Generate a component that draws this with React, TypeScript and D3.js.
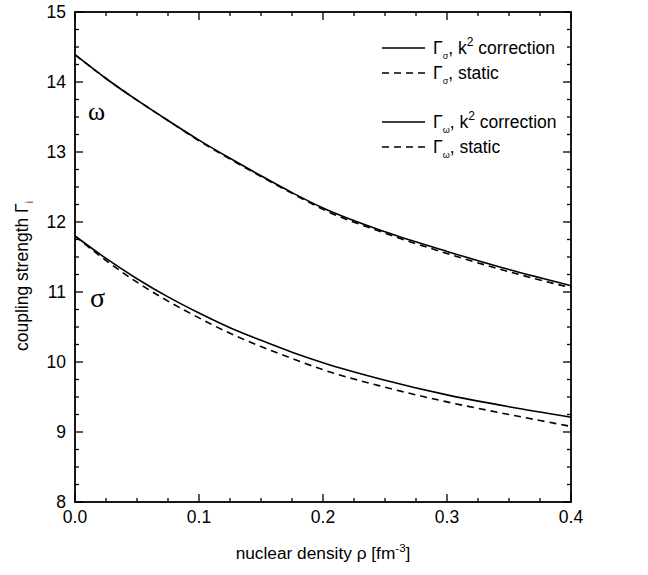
import React from "react";
import * as d3 from "d3";

const density = [0, 0.025, 0.05, 0.075, 0.1, 0.125, 0.15, 0.175, 0.2, 0.25, 0.3, 0.35, 0.4];
const omegaK2 = [14.39, 14.05, 13.74, 13.45, 13.17, 12.91, 12.66, 12.42, 12.2, 11.86, 11.58, 11.32, 11.09];
const omegaStatic = [14.39, 14.05, 13.74, 13.45, 13.16, 12.9, 12.65, 12.41, 12.18, 11.84, 11.55, 11.29, 11.06];
const sigmaK2 = [11.8, 11.48, 11.19, 10.93, 10.7, 10.49, 10.31, 10.14, 9.99, 9.74, 9.53, 9.36, 9.21];
const sigmaStatic = [11.8, 11.45, 11.14, 10.87, 10.63, 10.41, 10.22, 10.05, 9.89, 9.64, 9.43, 9.25, 9.08];

const xTicks = [0, 0.1, 0.2, 0.3, 0.4];
const yTicks = [8, 9, 10, 11, 12, 13, 14, 15];

const W = 648, H = 575;
const L = 75, R = 571, T = 12, B = 502;

export default function App() {
  const x = d3.scaleLinear().domain([0, 0.4]).range([L, R]);
  const y = d3.scaleLinear().domain([8, 15]).range([B, T]);
  const line = (vals: number[]) =>
    d3.line<number>().x((_, i) => x(density[i])).y((d) => y(d)).curve(d3.curveMonotoneX)(vals) || "";

  const xMinor = d3.range(0, 0.4001, 0.025);
  const yMinor = d3.range(8, 15.001, 0.25);
  const font = "'Liberation Sans', Arial, sans-serif";
  const serif = "'Liberation Serif', 'Times New Roman', serif";

  const legend = [
    { sub: "σ", text: "k", sup: true, dash: false, yy: 48 },
    { sub: "σ", text: "static", sup: false, dash: true, yy: 73 },
    { sub: "ω", text: "k", sup: true, dash: false, yy: 122 },
    { sub: "ω", text: "static", sup: false, dash: true, yy: 147 },
  ];

  return (
    <svg width={W} height={H} style={{ position: "absolute", left: 0, top: 0, background: "#fff" }}>
      <rect width={W} height={H} fill="#fff" />
      <g fill="none" stroke="#000" strokeWidth={1.6}>
        <path d={line(omegaK2)} />
        <path d={line(omegaStatic)} strokeDasharray="7,5" />
        <path d={line(sigmaK2)} />
        <path d={line(sigmaStatic)} strokeDasharray="7,5" />
      </g>
      <rect x={L} y={T} width={R - L} height={B - T} fill="none" stroke="#000" strokeWidth={1.8} />
      <g stroke="#000" strokeWidth={1.3}>
        {xMinor.map((v, i) => {
          const len = i % 4 === 0 ? 8 : 4;
          return (
            <g key={"xt" + i}>
              <line x1={x(v)} x2={x(v)} y1={B} y2={B - len} />
              <line x1={x(v)} x2={x(v)} y1={T} y2={T + len} />
            </g>
          );
        })}
        {yMinor.map((v, i) => {
          const len = i % 4 === 0 ? 8 : 4;
          return (
            <g key={"yt" + i}>
              <line x1={L} x2={L + len} y1={y(v)} y2={y(v)} />
              <line x1={R} x2={R - len} y1={y(v)} y2={y(v)} />
            </g>
          );
        })}
      </g>
      <g fontFamily={font} fontSize={17.5} fill="#000">
        {xTicks.map((v) => (
          <text key={"xl" + v} x={x(v)} y={B + 21} textAnchor="middle">
            {d3.format(".1f")(v)}
          </text>
        ))}
        {yTicks.map((v) => (
          <text key={"yl" + v} x={L - 9} y={y(v) + 6} textAnchor="end">
            {v}
          </text>
        ))}
      </g>
      <text x={(L + R) / 2} y={559} textAnchor="middle" fontFamily={font} fontSize={17.3}>
        nuclear density ρ [fm
        <tspan dy={-7} fontSize={11.5}>-3</tspan>
        <tspan dy={7}>]</tspan>
      </text>
      <text
        transform={`translate(28,276) rotate(-90)`}
        textAnchor="middle"
        fontFamily={font}
        fontSize={17.5}
      >
        coupling strength Γ
        <tspan dy={5} fontSize={10.5}>i</tspan>
      </text>
      <text x={88} y={120} fontFamily={serif} fontSize={26}>ω</text>
      <text x={90} y={307} fontFamily={serif} fontSize={28}>σ</text>
      {legend.map((e, i) => (
        <g key={"lg" + i}>
          <line
            x1={382}
            x2={425}
            y1={e.yy}
            y2={e.yy}
            stroke="#000"
            strokeWidth={1.6}
            strokeDasharray={e.dash ? "7,5" : undefined}
          />
          <text x={433} y={e.yy + 6} fontFamily={font} fontSize={17.5}>
            Γ<tspan dy={5} fontSize={9}>{e.sub}</tspan>
            <tspan dy={-5}>, {e.text}</tspan>
            {e.sup ? (
              <>
                <tspan dy={-8} fontSize={12}>2</tspan>
                <tspan dy={8}> correction</tspan>
              </>
            ) : null}
          </text>
        </g>
      ))}
    </svg>
  );
}
